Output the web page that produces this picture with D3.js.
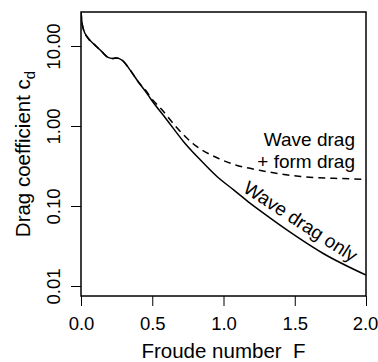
<!DOCTYPE html>
<html>
<head>
<meta charset="utf-8">
<script src="https://cdn.jsdelivr.net/npm/d3@7"></script>
<style>
  body { margin: 0; background: #fff; }
  text { font-family: "Liberation Sans", Arial, Helvetica, sans-serif; fill: #000; }
</style>
</head>
<body>
<div id="chart"></div>
<script>
// datos (Froude number vs drag coefficient)
const waveF  = [0, 0.005, 0.015, 0.05, 0.08, 0.11, 0.146, 0.19, 0.22, 0.25, 0.29, 0.345, 0.40, 0.46, 0.486, 0.603, 0.720, 0.838, 0.956, 1.073, 1.190, 1.261, 1.47, 1.70, 2.0];
const waveCd = [27, 21, 16.6, 12.5, 11, 9.8, 8.5, 7.2, 7.0, 7.1, 6.6, 5.0, 3.6, 2.6, 2.22, 1.19, 0.637, 0.376, 0.232, 0.158, 0.107, 0.0863, 0.0468, 0.0255, 0.0137];

const formF  = [0, 0.005, 0.015, 0.05, 0.08, 0.11, 0.146, 0.19, 0.22, 0.25, 0.29, 0.345, 0.40, 0.46, 0.486, 0.570, 0.662, 0.789, 0.958, 1.085, 1.261, 1.542, 1.775, 2.0];
const formCd = [27, 21, 16.6, 12.5, 11, 9.8, 8.5, 7.2, 7.0, 7.1, 6.6, 5.0, 3.6, 2.7, 2.32, 1.58, 1.0, 0.596, 0.398, 0.326, 0.278, 0.234, 0.222, 0.216];

const xTicks = [0, 0.5, 1.0, 1.5, 2.0];
const yTicks = [0.01, 0.1, 1, 10];

const width = 378;
const height = 362;
const margin = {top: 12, right: 12, bottom: 66, left: 81};

let svg = d3.select("#chart").append("svg")
  .attr("width", width)
  .attr("height", height);

let xScale = d3.scaleLinear().domain([0, 2]).range([margin.left, width - margin.right]);
let yScale = d3.scaleLog().domain([0.0075, 26.6]).range([height - margin.bottom, margin.top]);

// Ejes
let xAxis = svg.append("g")
  .attr("transform", `translate(0,${height - margin.bottom})`)
  .call(d3.axisBottom(xScale).tickValues(xTicks).tickFormat(d3.format(".1f")).tickSize(10).tickPadding(11));

let yAxis = svg.append("g")
  .attr("transform", `translate(${margin.left},0)`)
  .call(d3.axisLeft(yScale).tickValues(yTicks).tickFormat(d3.format(".2f")).tickSize(10));

[xAxis, yAxis].forEach(a => {
  a.select(".domain").remove();
  a.selectAll("line").attr("stroke", "#000").attr("stroke-width", 1);
  a.selectAll("text").style("font-size", "18.5px").attr("fill", "#000");
});

// la ultima etiqueta queda pegada al borde
xAxis.selectAll("text").filter(d => d === 2).attr("dx", -1);

yAxis.selectAll("text")
  .attr("x", null)
  .attr("dy", null)
  .attr("text-anchor", "middle")
  .attr("transform", "translate(-21,0) rotate(-90)");

// Curvas
svg.append("clipPath").attr("id", "clip")
  .append("rect")
  .attr("x", margin.left).attr("y", margin.top)
  .attr("width", width - margin.left - margin.right)
  .attr("height", height - margin.top - margin.bottom);

let line = d3.line()
  .x(d => xScale(d[0]))
  .y(d => yScale(d[1]))
  .curve(d3.curveMonotoneX);

svg.append("path")
  .datum(formF.map((f, i) => [f, formCd[i]]))
  .attr("clip-path", "url(#clip)")
  .attr("fill", "none")
  .attr("stroke", "#000")
  .attr("stroke-width", 1.5)
  .attr("stroke-dasharray", "7,5")
  .attr("d", line);

svg.append("path")
  .datum(waveF.map((f, i) => [f, waveCd[i]]))
  .attr("clip-path", "url(#clip)")
  .attr("fill", "none")
  .attr("stroke", "#000")
  .attr("stroke-width", 1.5)
  .attr("d", line);

// Marco
svg.append("rect")
  .attr("x", margin.left)
  .attr("y", margin.top)
  .attr("width", width - margin.left - margin.right)
  .attr("height", height - margin.top - margin.bottom)
  .attr("fill", "none")
  .attr("stroke", "#000")
  .attr("stroke-width", 1.5);

// Etiquetas
svg.append("text")
  .attr("x", (margin.left + width - margin.right) / 2)
  .attr("y", 358)
  .attr("text-anchor", "middle")
  .style("font-size", "20.5px")
  .style("white-space", "pre")
  .text("Froude number  F");

let yLabel = svg.append("text")
  .attr("transform", `translate(30,${(margin.top + height - margin.bottom) / 2}) rotate(-90)`)
  .attr("text-anchor", "middle")
  .style("font-size", "20.5px");
yLabel.append("tspan").text("Drag coefficient c");
yLabel.append("tspan").attr("dy", 5).style("font-size", "15px").text("d");

svg.append("text")
  .attr("x", 355).attr("y", 146)
  .attr("text-anchor", "end")
  .style("font-size", "19px")
  .text("Wave drag");

svg.append("text")
  .attr("x", 355).attr("y", 168)
  .attr("text-anchor", "end")
  .style("font-size", "19px")
  .text("+ form drag");

svg.append("text")
  .attr("transform", "translate(297,227) rotate(33)")
  .attr("text-anchor", "middle")
  .style("font-size", "19px")
  .text("Wave drag only");
</script>
</body>
</html>
